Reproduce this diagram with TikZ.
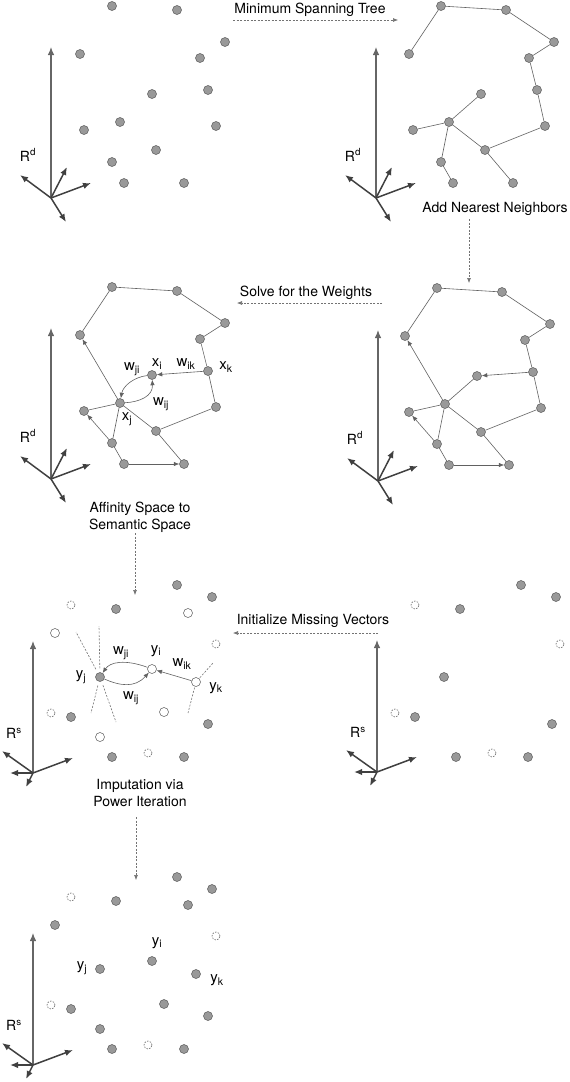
\documentclass[tikz,border=0pt]{standalone}
\usepackage{fontspec}
\setmainfont{TeX Gyre Heros}
\usepackage{tikz}
\usetikzlibrary{arrows.meta}

% point sets (pixel coordinates, y downwards)
\newcommand\affinitypts{a/112/6, b/177/10, c/225/42, d/80/54, e/200/58,
  f/152/94, g/208/90, h/120/122, i/84/130, j/216/126, k/156/150,
  l/112/162, m/124/183, n/184/183}
\newcommand\treeedges{a/b, a/d, b/c, c/e, e/g, g/j, j/k, k/h, h/i, h/l,
  l/m, k/n}
\newcommand\semknown{p/177/585, q/212/597, r/116/609, j/100/677, s/71/717,
  t/208/724, u/112/757, v/184/757}
\newcommand\semnew{w/188/613, x/55/633, i/152/669, k/196/682, y/164/712,
  z/100/737}
\newcommand\semmiss{m1/71/605, m2/216/644, m3/51/713, m4/148/753}

\begin{document}
\begin{tikzpicture}[>=latex, x=1pt, y=-1pt,
  pt/.style={circle, draw=black!65, fill=black!40, line width=0.5pt,
    inner sep=0pt, minimum size=9pt},
  hole/.style={pt, fill=white},
  miss/.style={circle, draw=black!60, dash pattern=on 1.5pt off 1.3pt,
    line width=0.6pt, inner sep=0pt, minimum size=8pt},
  treeline/.style={draw=black!62, line width=0.6pt},
  nn/.style={treeline, -{Latex[length=5.5pt, width=4.5pt]}},
  axisarrow/.style={draw=black!75, line width=1.5pt,
    -{Latex[length=8pt, width=6.5pt]}},
  axisv/.style={draw=black!60, line width=1.1pt,
    -{Latex[length=8pt, width=6.5pt]}},
  flow/.style={draw=black!55, dash pattern=on 2pt off 1.5pt,
    line width=0.6pt, -{Latex[length=5pt, width=4pt]}},
  nbr/.style={draw=black!55, dash pattern=on 2pt off 1.5pt, line width=0.6pt},
  lbl/.style={font=\fontsize{14}{17}\selectfont, inner sep=0pt},
  var/.style={font=\fontsize{15}{18}\selectfont, inner sep=0pt},
  steplabel/.style={font=\fontsize{14}{17}\selectfont, align=center,
    inner sep=0pt}]
\useasboundingbox (0,0) rectangle (570,1082);

%affinity space axes
\foreach \o/\ox/\oy in {RA/51/198, RB/376/198, RC/51/479, RD/378/481}
{
  \coordinate (\o) at (\ox,\oy);
  \draw[axisv] (\o) -- +(0,-151);
  \foreach \dx/\dy in {-31/-23, 16/-31, 40/-15, 15/24}
    \draw[axisarrow] (\o) -- +(\dx,\dy);
  \node[lbl] (\o lab) at (\ox-23,\oy-43) {R\textsuperscript{d}};
}
%semantic space axes
\foreach \o/\ox/\oy in {RE/33/773, RF/377/772, RG/33/1065}
{
  \coordinate (\o) at (\ox,\oy);
  \draw[axisv] (\o) -- +(0,-132);
  \foreach \dx/\dy in {-31/-22, 40/-15, -23/0, -7/14}
    \draw[axisarrow] (\o) -- +(\dx,\dy);
  \node[lbl] (\o lab) at (\ox-19,\oy-40) {R\textsuperscript{s}};
}

%points in affinity space
\foreach \n/\x/\y in \affinitypts
  \node[pt] (A\n) at (\x,\y) {};
%minimum spanning tree
\begin{scope}[shift={(329,0)}]
  \foreach \n/\x/\y in \affinitypts
    \node[pt] (B\n) at (\x,\y) {};
  \foreach \u/\v in \treeedges
    \draw[treeline] (B\u) -- (B\v);
  \draw[treeline] (Bh) -- (Bf);
\end{scope}
%weights
\begin{scope}[shift={(0,281)}]
  \foreach \n/\x/\y in \affinitypts
    \node[pt] (C\n) at (\x,\y) {};
  \foreach \u/\v in \treeedges
    \draw[treeline] (C\u) -- (C\v);
  \foreach \u/\v in {h/d, g/f, l/i, m/n}
    \draw[nn] (C\u) -- (C\v);
  \draw[nn] (Cf) .. controls (134,96) and (123,105) .. (Ch);
  \draw[nn] (Ch) .. controls (140,121) and (153,115) .. (Cf);
  \node[var] (xi) at (157,83) {x\textsubscript{i}};
  \node[var] (wji) at (132,88) {w\textsubscript{ji}};
  \node[var] (wik) at (186,83) {w\textsubscript{ik}};
  \node[var] (xk) at (226,86) {x\textsubscript{k}};
  \node[var] (wij) at (161,123) {w\textsubscript{ij}};
  \node[var] (xj) at (127,138) {x\textsubscript{j}};
\end{scope}
%nearest neighbors
\begin{scope}[shift={(325,282)}]
  \foreach \n/\x/\y in \affinitypts
    \node[pt] (D\n) at (\x,\y) {};
  \foreach \u/\v in \treeedges
    \draw[treeline] (D\u) -- (D\v);
  \draw[treeline] (Dh) -- (Df);
  \foreach \u/\v in {h/d, g/f, l/i, m/n}
    \draw[nn] (D\u) -- (D\v);
\end{scope}

%semantic space, initialized
\foreach \n/\x/\y in \semknown
  \node[pt] (E\n) at (\x,\y) {};
\foreach \n/\x/\y in \semnew
  \node[hole] (E\n) at (\x,\y) {};
\foreach \n/\x/\y in \semmiss
  \node[miss] (E\n) at (\x,\y) {};
\draw[nn] (Ek) -- (Ei);
\draw[nn] (Ei) .. controls (125,659) and (110,662) .. (Ej);
\draw[nn] (Ej) .. controls (120,686) and (135,688) .. (Ei);
%neighborhoods
\coordinate (cj1) at (99,626);
\coordinate (cj2) at (76,632);
\coordinate (cj3) at (91,713);
\coordinate (cj4) at (116,722);
\coordinate (ck1) at (213,663);
\coordinate (ck2) at (188,713);
\foreach \c in {cj1, cj2, cj3, cj4}
  \draw[nbr, shorten <=4pt] (Ej) -- (\c);
\foreach \c in {ck1, ck2}
  \draw[nbr, shorten <=1pt] (Ek) -- (\c);
\node[var] (wji2) at (121,653) {w\textsubscript{ji}};
\node[var] (yi) at (156,651) {y\textsubscript{i}};
\node[var] (wik2) at (182,664) {w\textsubscript{ik}};
\node[var] (yj) at (81,677) {y\textsubscript{j}};
\node[var] (yk) at (216,688) {y\textsubscript{k}};
\node[var] (wij2) at (131,698) {w\textsubscript{ij}};
%semantic space, known vectors only
\begin{scope}[shift={(344,0)}]
  \foreach \n/\x/\y in \semknown
    \node[pt] (F\n) at (\x,\y) {};
  \foreach \n/\x/\y in \semmiss
    \node[miss] (F\n) at (\x,\y) {};
\end{scope}
%semantic space, imputed
\begin{scope}[shift={(0,292)}]
  \foreach \n/\x/\y in \semknown
    \node[pt] (G\n) at (\x,\y) {};
  \foreach \n/\x/\y in \semnew
    \node[pt] (G\n) at (\x,\y) {};
  \foreach \n/\x/\y in \semmiss
    \node[miss] (G\n) at (\x,\y) {};
  \node[var] (yi3) at (157,651) {y\textsubscript{i}};
  \node[var] (yj3) at (82,676) {y\textsubscript{j}};
  \node[var] (yk3) at (217,688) {y\textsubscript{k}};
\end{scope}

%steps
\node[steplabel] (mst) at (310,10) {Minimum Spanning Tree};
\coordinate (mst0) at (233,20);
\coordinate (mst1) at (398,20);
\draw[flow] (mst0) -- (mst1);
\node[steplabel] (knn) at (495,209) {Add Nearest Neighbors};
\coordinate (knn0) at (469,219);
\coordinate (knn1) at (469,283);
\draw[flow] (knn0) -- (knn1);
\node[steplabel] (solve) at (306,293) {Solve for the Weights};
\coordinate (solve0) at (382,303);
\coordinate (solve1) at (237,303);
\draw[flow] (solve0) -- (solve1);
\node[steplabel] (map) at (140,517) {Affinity Space to\\Semantic Space};
\coordinate (map0) at (135,533);
\coordinate (map1) at (135,595);
\draw[flow] (map0) -- (map1);
\node[steplabel] (init) at (313,621) {Initialize Missing Vectors};
\coordinate (init0) at (378,633);
\coordinate (init1) at (233,633);
\draw[flow] (init0) -- (init1);
\node[steplabel] (iter) at (140,793) {Imputation via\\Power Iteration};
\coordinate (iter0) at (136,817);
\coordinate (iter1) at (136,880);
\draw[flow] (iter0) -- (iter1);
\end{tikzpicture}
\end{document}
